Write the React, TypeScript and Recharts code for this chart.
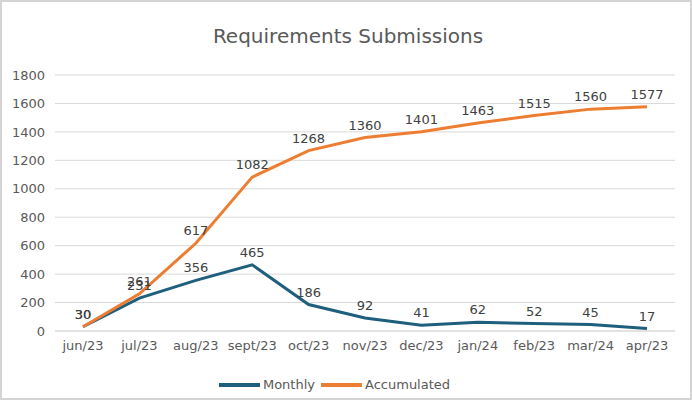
import React from 'react';
import { LineChart, Line, XAxis, YAxis, CartesianGrid, Legend, LabelList } from 'recharts';

// values
const months = ['jun/23', 'jul/23', 'aug/23', 'sept/23', 'oct/23', 'nov/23', 'dec/23', 'jan/24', 'feb/23', 'mar/24', 'apr/23'];
const monthly = [30, 231, 356, 465, 186, 92, 41, 62, 52, 45, 17];
const accumulated = [30, 261, 617, 1082, 1268, 1360, 1401, 1463, 1515, 1560, 1577];
const yTicks = [0, 200, 400, 600, 800, 1000, 1200, 1400, 1600, 1800];

const data = months.map((m, i) => ({ month: m, monthly: monthly[i], accumulated: accumulated[i] }));

const FONT = '"DejaVu Sans", sans-serif';
const TEXT = '#595959';
const BLUE = '#1f5f7e';
const ORANGE = '#ed7d31';

const legendItems = [
  { name: 'Monthly', color: BLUE },
  { name: 'Accumulated', color: ORANGE },
];

const renderLegend = () => (
  <div style={{ display: 'flex', justifyContent: 'center', alignItems: 'center', fontFamily: FONT, fontSize: 13, color: TEXT, paddingTop: 6 }}>
    {legendItems.map((it) => (
      <div key={it.name} style={{ display: 'flex', alignItems: 'center', marginRight: 6 }}>
        <div style={{ width: 41, height: 4, background: it.color, marginRight: 3 }} />
        <span>{it.name}</span>
      </div>
    ))}
  </div>
);

const App: React.FC = () => {
  return (
    <div
      style={{
        position: 'absolute',
        left: 0,
        top: 0,
        width: 692,
        height: 400,
        background: '#fff',
        border: '2px solid #d4d4d4',
        boxSizing: 'border-box',
        overflow: 'hidden',
      }}
    >
      <div
        style={{
          position: 'absolute',
          top: 22,
          left: 0,
          width: 692,
          textAlign: 'center',
          fontFamily: FONT,
          fontSize: 20,
          color: TEXT,
        }}
      >
        Requirements Submissions
      </div>
      <div style={{ position: 'absolute', left: -2, top: -2 }}>
        <LineChart width={692} height={400} data={data} margin={{ top: 75, right: 17, left: 0, bottom: 0 }}>
          <CartesianGrid vertical={false} stroke="#d9d9d9" />
          <XAxis
            dataKey="month"
            axisLine={{ stroke: '#d9d9d9' }}
            tickLine={false}
            tick={{ fill: TEXT, fontSize: 13, fontFamily: FONT }}
            interval={0}
            height={40}
            tickMargin={4}
            padding={{ left: 28, right: 28 }}
          />
          <YAxis
            domain={[0, 1800]}
            ticks={yTicks}
            axisLine={false}
            tickLine={false}
            tick={{ fill: TEXT, fontSize: 13, fontFamily: FONT }}
            width={55}
            tickMargin={4}
          />
          <Legend verticalAlign="bottom" height={29} content={renderLegend} />
          <Line type="linear" dataKey="monthly" name="Monthly" stroke={BLUE} strokeWidth={3} dot={false} isAnimationActive={false}>
            <LabelList dataKey="monthly" position="top" offset={8} fill="#404040" fontSize={13} fontFamily={FONT} />
          </Line>
          <Line type="linear" dataKey="accumulated" name="Accumulated" stroke={ORANGE} strokeWidth={3} dot={false} isAnimationActive={false}>
            <LabelList dataKey="accumulated" position="top" offset={8} fill="#404040" fontSize={13} fontFamily={FONT} />
          </Line>
        </LineChart>
      </div>
    </div>
  );
};

export default App;
